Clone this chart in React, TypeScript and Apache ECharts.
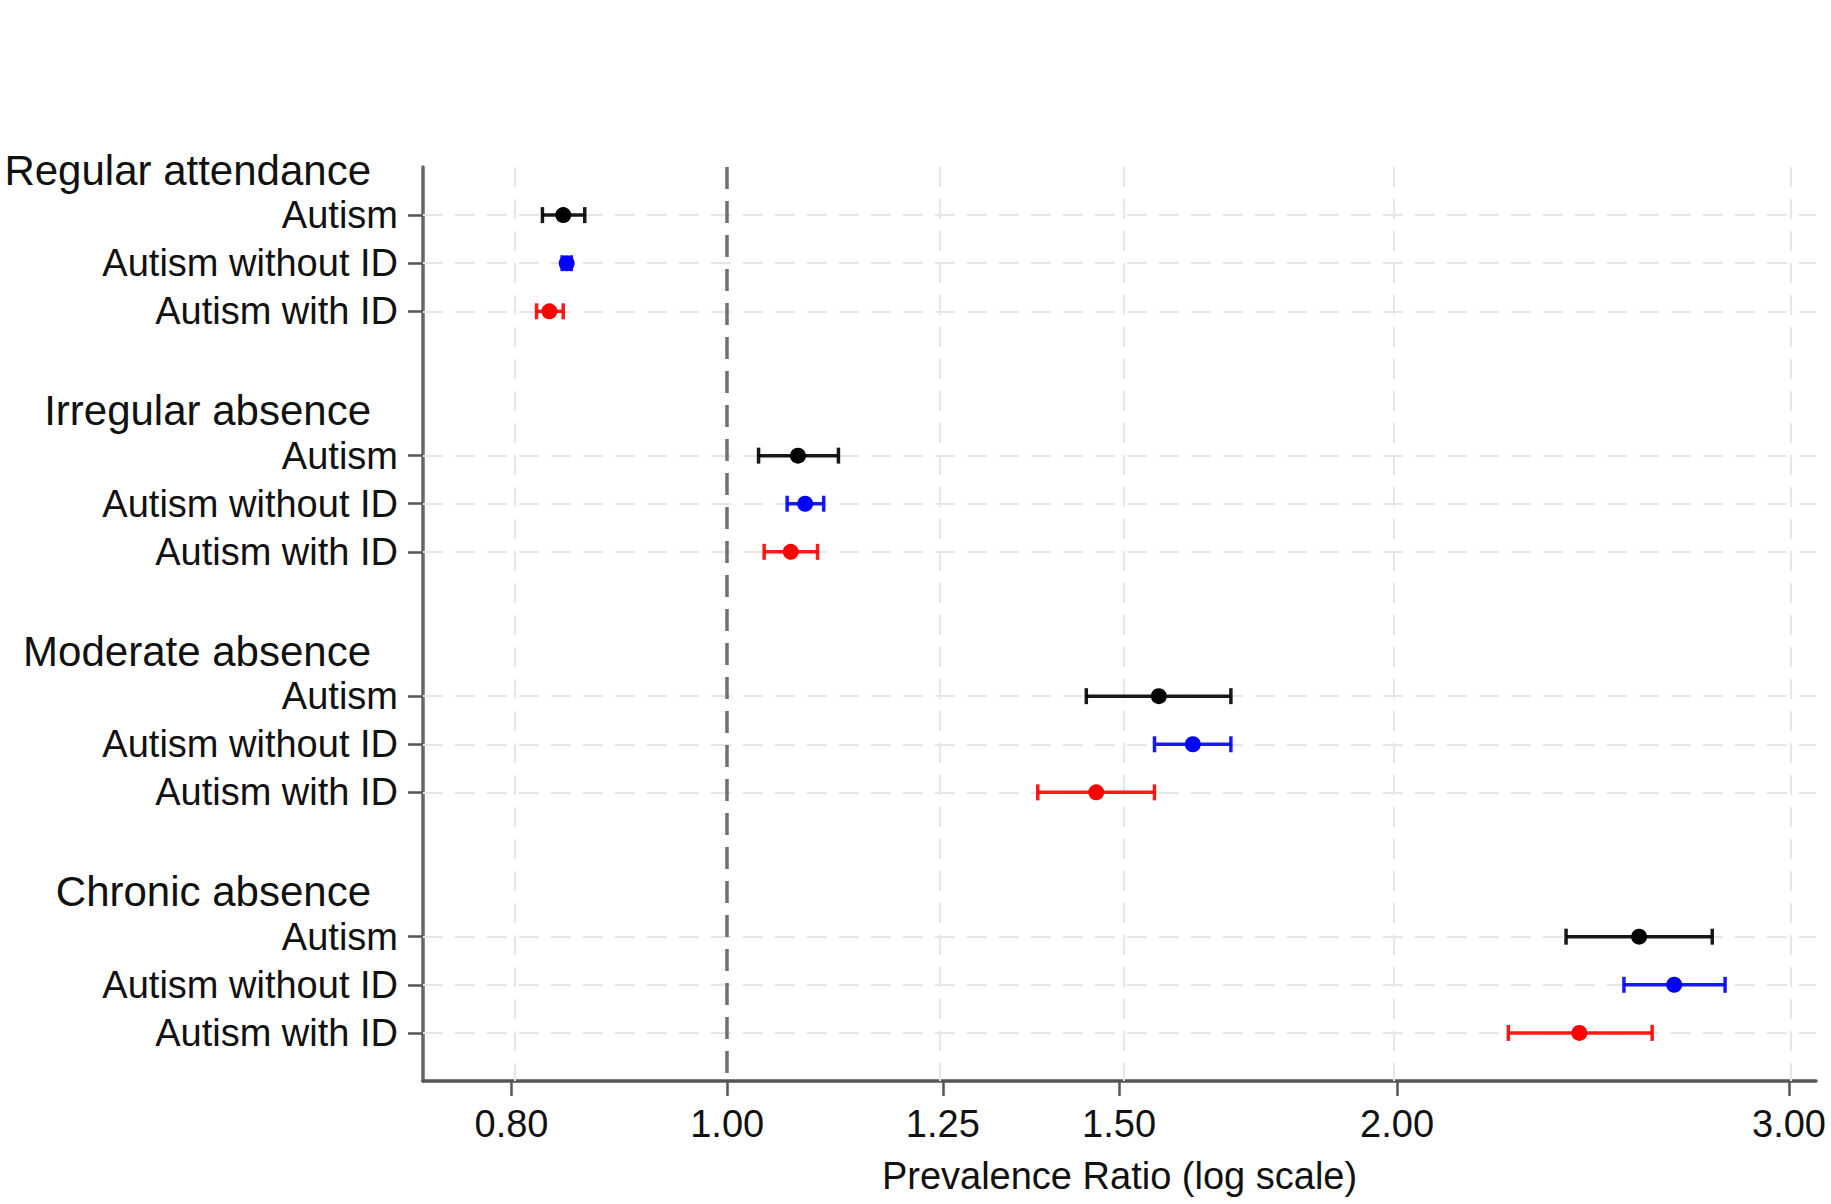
import React, { useEffect, useRef } from 'react';
import * as echarts from 'echarts';

// groups (header rows) and sub-rows
const groups = ['Regular attendance', 'Irregular absence', 'Moderate absence', 'Chronic absence'];
const subgroups = ['Autism', 'Autism without ID', 'Autism with ID'];
const colors = ['#000000', '#0000ff', '#ff0000'];

// prevalence ratios and 95% CI, one value per group
const prAutism = [0.844, 1.076, 1.563, 2.569];
const loAutism = [0.826, 1.033, 1.45, 2.382];
const hiAutism = [0.863, 1.122, 1.684, 2.771];

const prNoID = [0.847, 1.084, 1.619, 2.664];
const loNoID = [0.843, 1.064, 1.556, 2.529];
const hiNoID = [0.851, 1.105, 1.684, 2.808];

const prID = [0.832, 1.068, 1.465, 2.415];
const loID = [0.821, 1.039, 1.379, 2.244];
const hiID = [0.844, 1.098, 1.556, 2.604];

const xTicks = [0.8, 1, 1.25, 1.5, 2, 3];
const refValue = 1;

const pr = [prAutism, prNoID, prID];
const lo = [loAutism, loNoID, loID];
const hi = [hiAutism, hiNoID, hiID];

const FONT = '"Liberation Sans", Arial, Helvetica, sans-serif';
const ln = Math.log;

// row positions: each group takes 5 slots (header, 3 rows, gap)
const headerPos = groups.map((g, i) => i * 5);
const rowPos = (g: number, s: number) => g * 5 + 1 + s;
const itemPos: number[] = [];
const labelMap: Record<number, string> = {};
groups.forEach((g, i) => {
  labelMap[headerPos[i]] = '{h|' + g + '}';
  subgroups.forEach((s, j) => {
    itemPos.push(rowPos(i, j));
    labelMap[rowPos(i, j)] = '{i|' + s + '}';
  });
});
const allPos = Object.keys(labelMap).map(Number).sort((a, b) => a - b);

const App = () => {
  const chartRef = useRef(null);

  useEffect(() => {
    const chart = echarts.init(chartRef.current, null, { renderer: 'svg' });

    // CI whiskers with end caps
    const ciSeries = subgroups.map((s, j) => ({
      name: s + ' CI',
      type: 'custom',
      z: 4,
      encode: { x: [0, 1], y: 2 },
      data: groups.map((g, i) => [ln(lo[j][i]), ln(hi[j][i]), rowPos(i, j)]),
      renderItem: (params: any, api: any) => {
        const y = api.value(2);
        const p1 = api.coord([api.value(0), y]);
        const p2 = api.coord([api.value(1), y]);
        const h = 8;
        const style = { stroke: colors[j], lineWidth: 3.5, opacity: 0.9 };
        return {
          type: 'group',
          children: [
            { type: 'line', shape: { x1: p1[0], y1: p1[1], x2: p2[0], y2: p2[1] }, style },
            { type: 'line', shape: { x1: p1[0], y1: p1[1] - h, x2: p1[0], y2: p1[1] + h }, style },
            { type: 'line', shape: { x1: p2[0], y1: p2[1] - h, x2: p2[0], y2: p2[1] + h }, style },
          ],
        };
      },
    }));

    const pointSeries = subgroups.map((s, j) => ({
      name: s,
      type: 'scatter',
      z: 5,
      symbol: 'circle',
      symbolSize: 16,
      itemStyle: { color: colors[j], opacity: 1 },
      data: groups.map((g, i) => [ln(pr[j][i]), rowPos(i, j)]),
    }));

    const gridLines = [
      ...xTicks
        .filter((t) => t !== refValue)
        .map((t) => ({ xAxis: ln(t) })),
      ...itemPos.map((p) => ({ yAxis: p })),
      {
        xAxis: ln(refValue),
        lineStyle: { color: '#707070', width: 3.5, type: [22, 12] },
      },
    ];

    const options = {
      animation: false,
      backgroundColor: '#ffffff',
      grid: {
        left: 423,
        right: 15,
        top: 167,
        bottom: 123,
        containLabel: false,
        outerBoundsMode: 'none',
      },
      xAxis: {
        type: 'value',
        position: 'bottom',
        min: ln(0.73),
        max: ln(3.085),
        name: 'Prevalence Ratio (log scale)',
        nameLocation: 'middle',
        nameGap: 76,
        nameTextStyle: { fontSize: 38, color: '#111', fontFamily: FONT },
        axisLine: { show: true, onZero: false, lineStyle: { color: '#555555', width: 3.5 } },
        axisTick: {
          show: true,
          customValues: xTicks.map(ln),
          length: 15,
          lineStyle: { color: '#555555', width: 2.5 },
        },
        axisLabel: {
          customValues: xTicks.map(ln),
          formatter: (v: number) => Math.exp(v).toFixed(2),
          fontSize: 38,
          margin: 24,
          color: '#111',
          fontFamily: FONT,
        },
        splitLine: { show: false },
      },
      yAxis: {
        type: 'value',
        position: 'left',
        inverse: true,
        min: 0,
        max: 19,
        axisLine: { show: true, onZero: false, lineStyle: { color: '#666666', width: 3.5 } },
        axisTick: {
          show: true,
          customValues: itemPos,
          length: 15,
          lineStyle: { color: '#555555', width: 2.5 },
        },
        axisLabel: {
          customValues: allPos,
          margin: 25,
          formatter: (v: number) => labelMap[v] || '',
          rich: {
            h: { fontSize: 42, color: '#111', fontFamily: FONT, padding: [6, 27, 0, 0] },
            i: { fontSize: 38, color: '#111', fontFamily: FONT },
          },
        },
        splitLine: { show: false },
      },
      series: [
        {
          name: 'grid',
          type: 'line',
          z: 1,
          data: [],
          markLine: {
            z: 1,
            silent: true,
            symbol: ['none', 'none'],
            label: { show: false },
            lineStyle: { color: '#e6e6e6', width: 2, type: [20, 12] },
            data: gridLines,
          },
        },
        ...ciSeries,
        ...pointSeries,
      ],
    };

    chart.setOption(options);

    return () => {
      chart.dispose();
    };
  }, []);

  return (
    <div
      ref={chartRef}
      style={{ position: 'fixed', left: 0, top: 0, width: '1831px', height: '1204px' }}
    ></div>
  );
};

export default App;
